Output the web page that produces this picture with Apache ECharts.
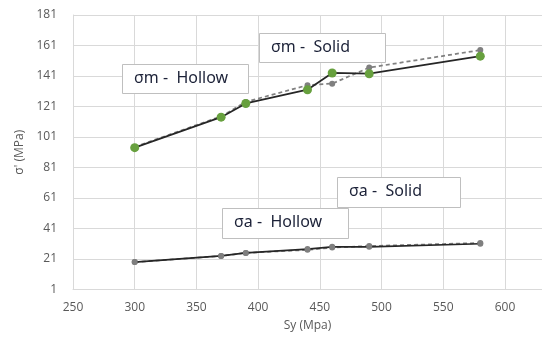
<!DOCTYPE html>
<html>
<head>
<meta charset="utf-8">
<script src="https://cdn.jsdelivr.net/npm/echarts@6/dist/echarts.min.js"></script>
<style>
  html, body { margin: 0; padding: 0; background: #fff; }
  #main { width: 542px; height: 346px; }
</style>
</head>
<body>
<div id="main"></div>
<script>
// data
var sy = [300, 370, 390, 440, 460, 490, 580];
var smHollow = [94, 114, 123, 132, 143, 142.5, 154];
var smSolid = [94.5, 114.5, 124, 135, 136, 146.5, 158];
var saHollow = [19, 23, 25, 27.5, 29, 29, 31];
var saSolid = [19, 23, 25, 27, 28.5, 29.5, 31.5];
var yTicks = [1, 21, 41, 61, 81, 101, 121, 141, 161, 181];

function pairs(ys) {
    return sy.map(function (x, i) { return [x, ys[i]]; });
}

var myChart = echarts.init(document.getElementById('main'));
var labelFont = 'Open Sans, Liberation Sans, sans-serif';

// white text boxes with a grey border, as in the original
function box(left, top, w, h, txt) {
    return [
        { type: 'rect', left: left, top: top, z: 100,
          shape: { width: w, height: h },
          style: { fill: '#fff', stroke: '#bfbfbf', lineWidth: 1 } },
        { type: 'text', left: left + 12, top: top + 6, z: 101,
          style: { text: txt, fill: '#1c2238', fontSize: 16, fontFamily: 'Noto Sans, sans-serif' } }
    ];
}

option = {
    animation: false,
    grid: { left: 73, right: 0, top: 15, bottom: 56.5 },
    xAxis: {
        type: 'value', min: 250, max: 630, interval: 50,
        name: 'Sy (Mpa)', nameLocation: 'middle', nameGap: 30,
        nameTextStyle: { color: '#595959', fontSize: 12, fontFamily: labelFont },
        axisLine: { show: true, lineStyle: { color: '#d9d9d9' } },
        axisTick: { show: false },
        axisLabel: { color: '#595959', fontSize: 12, fontFamily: labelFont, showMaxLabel: false, margin: 12 },
        splitLine: { show: true, lineStyle: { color: '#d9d9d9' } }
    },
    yAxis: {
        type: 'value', min: yTicks[0], max: yTicks[yTicks.length - 1], interval: 20,
        name: "σ' (MPa)", nameLocation: 'middle', nameGap: 44, nameRotate: 90,
        nameTextStyle: { color: '#595959', fontSize: 12, fontFamily: labelFont },
        axisLine: { show: true, lineStyle: { color: '#d9d9d9' } },
        axisTick: { show: false },
        axisLabel: { color: '#595959', fontSize: 12, fontFamily: labelFont, margin: 16 },
        splitLine: { show: true, lineStyle: { color: '#d9d9d9' } }
    },
    series: [
        {
            name: 'σm - Hollow', type: 'line', data: pairs(smHollow), z: 3,
            symbol: 'circle', symbolSize: 9,
            itemStyle: { color: '#67a03e' },
            lineStyle: { color: '#262626', width: 1.75 }
        },
        {
            name: 'σm - Solid', type: 'line', data: pairs(smSolid), z: 2,
            symbol: 'circle', symbolSize: 6,
            itemStyle: { color: '#7f7f7f' },
            lineStyle: { color: '#808080', width: 1.75, type: [4, 3] }
        },
        {
            name: 'σa - Hollow', type: 'line', data: pairs(saHollow), z: 3,
            symbol: 'circle', symbolSize: 6,
            itemStyle: { color: '#7f7f7f' },
            lineStyle: { color: '#262626', width: 1.75 }
        },
        {
            name: 'σa - Solid', type: 'line', data: pairs(saSolid), z: 2,
            symbol: 'circle', symbolSize: 6,
            itemStyle: { color: '#7f7f7f' },
            lineStyle: { color: '#808080', width: 1.75, type: [4, 3] }
        }
    ],
    graphic: [].concat(
        box(122, 64, 126, 29, 'σm -  Hollow'),
        box(259, 33, 126, 29, 'σm -  Solid'),
        box(337, 177, 123, 30, 'σa -  Solid'),
        box(222, 208, 126, 30, 'σa -  Hollow')
    )
};

myChart.setOption(option);
</script>
</body>
</html>
